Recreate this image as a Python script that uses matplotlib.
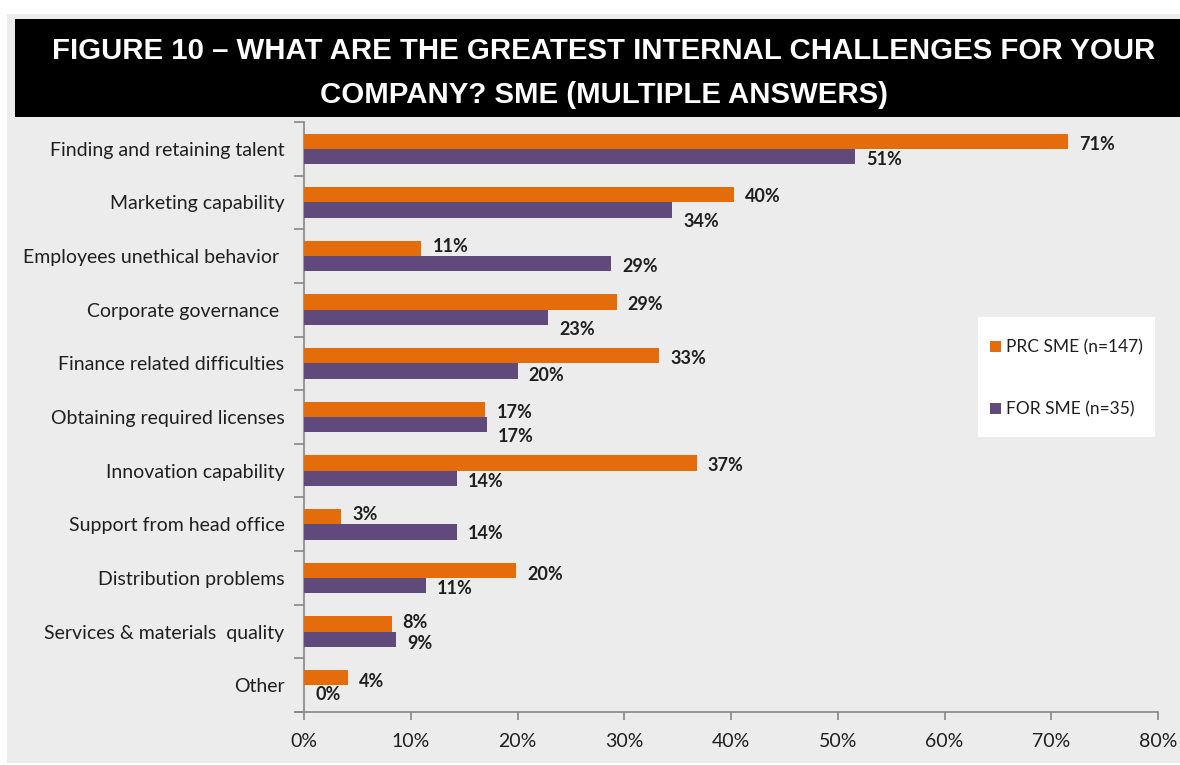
import matplotlib
matplotlib.use("Agg")
import matplotlib.pyplot as plt
from matplotlib.patches import Rectangle
import numpy as np

categories = [
    "Finding and retaining talent",
    "Marketing capability",
    "Employees unethical behavior ",
    "Corporate governance ",
    "Finance related difficulties",
    "Obtaining required licenses",
    "Innovation capability",
    "Support from head office",
    "Distribution problems",
    "Services & materials  quality",
    "Other",
]
prc_sme = [71.6, 40.3, 11.0, 29.3, 33.3, 17.0, 36.8, 3.5, 19.9, 8.2, 4.1]
for_sme = [51.6, 34.5, 28.8, 22.9, 20.0, 17.1, 14.3, 14.3, 11.4, 8.6, 0.0]
prc_labels = ["71%", "40%", "11%", "29%", "33%", "17%", "37%", "3%", "20%", "8%", "4%"]
for_labels = ["51%", "34%", "29%", "23%", "20%", "17%", "14%", "14%", "11%", "9%", "0%"]
series_names = ["PRC SME (n=147)", "FOR SME (n=35)"]
xticks = [0, 10, 20, 30, 40, 50, 60, 70, 80]
xtick_labels = ["0%", "10%", "20%", "30%", "40%", "50%", "60%", "70%", "80%"]
title = "FIGURE 10 \u2013 WHAT ARE THE GREATEST INTERNAL CHALLENGES FOR YOUR\nCOMPANY? SME (MULTIPLE ANSWERS)"

# style: vertical nudges (pixels, downward) of the data labels, as placed in the original
prc_label_dy = [2, 1, -3, 1, 2, 2, 2, -3, 3, -2, 3]
for_label_dy = [2, 10, 2, 11, 3, 11, 2, 1, 2, 3, 1]

ORANGE = "#E46C0A"
PURPLE = "#604A7B"
PANEL = "#ECECEC"
TXT = "#1F1F1F"
FONT = "Lato"

W, H = 1180, 765
fig = plt.figure(figsize=(W / 100, H / 100), dpi=100)
fig.patch.set_facecolor("white")

# gray panel, black title box
fig.patches.append(Rectangle((7 / W, 1 - 763 / H), 1, (763 - 14) / H,
                             transform=fig.transFigure, facecolor=PANEL,
                             edgecolor="none", zorder=0))
fig.patches.append(Rectangle((15 / W, 1 - 117 / H), 1, (117 - 19) / H,
                             transform=fig.transFigure, facecolor="black",
                             edgecolor="none", zorder=1))
fig.text(604 / W, 1 - 73 / H, title, ha="center", va="center", color="white",
         fontsize=21.2, fontweight="bold", family="Liberation Sans",
         linespacing=1.75, zorder=2)

ax = fig.add_axes([304 / W, 1 - 712 / H, (1158 - 304) / W, (712 - 122) / H])
ax.set_zorder(5)
ax.set_facecolor(PANEL)
n = len(categories)
y = np.arange(n)
bh = 0.285
ax.barh(y - bh / 2, prc_sme, height=bh, color=ORANGE, label=series_names[0], zorder=3)
ax.barh(y + bh / 2, for_sme, height=bh, color=PURPLE, label=series_names[1], zorder=3)

for i in range(n):
    ax.annotate(prc_labels[i], (prc_sme[i], y[i] - bh / 2),
                xytext=(11, -(prc_label_dy[i] + 1)), textcoords="offset pixels",
                ha="left", va="center", fontsize=13, fontweight="bold",
                color=TXT, family=FONT)
    ax.annotate(for_labels[i], (for_sme[i], y[i] + bh / 2),
                xytext=(11, -(for_label_dy[i] + 1)), textcoords="offset pixels",
                ha="left", va="center", fontsize=13, fontweight="bold",
                color=TXT, family=FONT)

ax.set_ylim(n - 0.5, -0.5)
ax.set_xlim(0, 80)
ax.set_yticks(y)
ax.set_yticklabels(categories, fontsize=14, color=TXT, family=FONT)
ax.set_yticks(np.arange(n + 1) - 0.5, minor=True)
ax.tick_params(axis="y", which="major", length=0, pad=14)
ax.tick_params(axis="y", which="minor", length=7, color="#868686", width=1.2)
ax.set_xticks(xticks)
ax.set_xticklabels(xtick_labels, fontsize=14, color=TXT, family=FONT)
ax.tick_params(axis="x", length=6, color="#868686", width=1.2, pad=9)
for s in ["top", "right"]:
    ax.spines[s].set_visible(False)
for s in ["left", "bottom"]:
    ax.spines[s].set_color("#868686")
    ax.spines[s].set_linewidth(1.2)
ax.spines["bottom"].set_bounds(-0.8, 80)

lx0, lx1, ly0, ly1 = 978, 1155, 317, 437
fig.patches.append(Rectangle((lx0 / W, 1 - ly1 / H), (lx1 - lx0) / W, (ly1 - ly0) / H,
                             transform=fig.transFigure, facecolor="white",
                             edgecolor="none", zorder=6))
leg = fig.legend(loc="center", bbox_to_anchor=((lx0 + lx1) / 2 / W, 1 - (ly0 + ly1 + 3) / 2 / H),
                 bbox_transform=fig.transFigure, frameon=False,
                 prop={"family": FONT, "size": 12.5},
                 handlelength=0.6, handleheight=0.6, handletextpad=0.3,
                 labelspacing=2.6, borderpad=0, borderaxespad=0)
leg.set_zorder(10)
for t in leg.get_texts():
    t.set_color(TXT)

fig.savefig("out.png", dpi=100)
